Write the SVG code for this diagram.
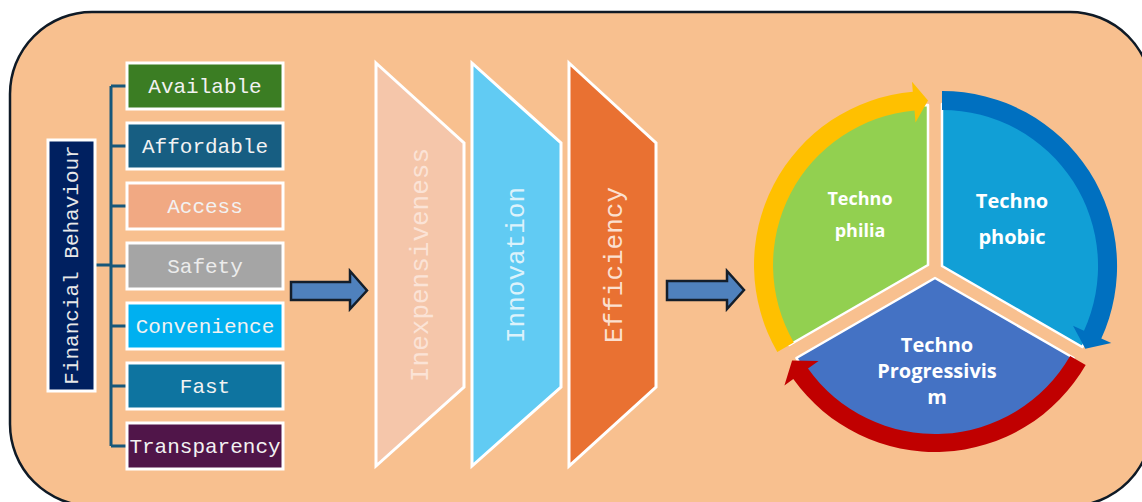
<svg xmlns="http://www.w3.org/2000/svg" width="1142" height="502" viewBox="0 0 1142 502">
<style>
.box{stroke:#ffffff;stroke-width:3}
.lbl{font-family:"Liberation Mono","Courier New",monospace;font-size:21px;fill:#f2f2f2;text-anchor:middle}
.big{font-family:"Liberation Mono","Courier New",monospace;font-size:26px;text-anchor:middle}
.trap{stroke:#ffffff;stroke-width:3;stroke-linejoin:miter}
.con{stroke:#17577a;stroke-width:3;fill:none}
.blk{fill:#4f81bd;stroke:#141e2a;stroke-width:2.5;stroke-linejoin:miter}
.sec{stroke:#ffffff;stroke-width:2.5;stroke-linejoin:round}
.ct{font-family:"Open Sans","Liberation Sans",sans-serif;font-weight:bold;fill:#ffffff;text-anchor:middle}
</style>
<rect x="10" y="12" width="1142" height="494" rx="82" ry="82" fill="#f8c08f" stroke="#0f1a26" stroke-width="2.5"/>

<g id="connectors">
<path class="con" d="M111 86 V446 M111 86 H126 M111 146 H126 M111 206 H126 M111 266 H126 M111 326 H126 M111 386 H126 M111 446 H126 M96 265 H111"/>
<path class="blk" d="M291 282 H350 V271 L367 290.5 L350 309 V300 H291 Z"/>
<path class="blk" d="M667 281 H727 V271 L744 290 L727 309 V300 H667 Z"/>
</g>

<g id="financial-behaviour">
<rect class="box" x="48" y="140" width="47" height="251" fill="#002060"/>
<text class="lbl" transform="translate(71,265) rotate(-90)" y="7" style="fill:#e8e8e8">Financial Behaviour</text>
</g>
<g id="available"><rect class="box" x="127" y="63" width="156" height="46" fill="#3b7d23"/><text class="lbl" x="205" y="93">Available</text></g>
<g id="affordable"><rect class="box" x="127" y="123" width="156" height="46" fill="#175e82"/><text class="lbl" x="205" y="153">Affordable</text></g>
<g id="access"><rect class="box" x="127" y="183" width="156" height="46" fill="#f1a983"/><text class="lbl" x="205" y="213">Access</text></g>
<g id="safety"><rect class="box" x="127" y="243" width="156" height="46" fill="#a5a5a5"/><text class="lbl" x="205" y="273" style="fill:#ececec">Safety</text></g>
<g id="convenience"><rect class="box" x="127" y="303" width="156" height="46" fill="#00b0f0"/><text class="lbl" x="205" y="333">Convenience</text></g>
<g id="fast"><rect class="box" x="127" y="363" width="156" height="46" fill="#0e74a0"/><text class="lbl" x="205" y="393">Fast</text></g>
<g id="transparency"><rect class="box" x="127" y="423" width="156" height="46" fill="#501549"/><text class="lbl" x="205" y="453">Transparency</text></g>

<g id="inexpensiveness">
<path class="trap" d="M376 63 L464 143 V387 L376 466 Z" fill="#f5c6aa"/>
<text class="big" transform="translate(419,265) rotate(-90)" y="9" fill="#fbe3d6">Inexpensiveness</text>
</g>
<g id="innovation">
<path class="trap" d="M472 63 L561 143 V387 L472 466 Z" fill="#61cbf3"/>
<text class="big" transform="translate(515,265) rotate(-90)" y="9" fill="#dcf2fb">Innovation</text>
</g>
<g id="efficiency">
<path class="trap" d="M569 63 L656 143 V387 L569 466 Z" fill="#e97132"/>
<text class="big" transform="translate(613,265) rotate(-90)" y="9" fill="#fbe0d0">Efficiency</text>
</g>

<g id="technophilia">
<path class="sec" d="M928 265 L789.4 345 A160 160 0 0 1 928 105 Z" fill="#92d050"/>
<text class="ct" x="860" y="205" font-size="18">Techno</text>
<text class="ct" x="860" y="237" font-size="18">philia</text>
</g>
<g id="technophobic">
<path class="sec" d="M942 266 L942 104 A162 162 0 0 1 1082.3 347 Z" fill="#119fd6"/>
<text class="ct" x="1012" y="208" font-size="20">Techno</text>
<text class="ct" x="1012" y="244" font-size="20">phobic</text>
</g>
<g id="technoprogressivism">
<path class="sec" d="M935 278 L1073.6 358 A160 160 0 0 1 796.4 358 Z" fill="#4472c4"/>
<text class="ct" x="937" y="352" font-size="20">Techno</text>
<text class="ct" x="937" y="378" font-size="20">Progressivis</text>
<text class="ct" x="937" y="404" font-size="20">m</text>
</g>

<g id="cycle-arrows">
<path d="M777.3 352 A174 174 0 0 1 912.8 91.7 L912 81.7 L928 100.5 L915.5 122.5 L914.5 110.6 A155 155 0 0 0 793.8 342.5 Z" fill="#ffc000"/>
<path d="M942 91 A175 175 0 0 1 1101.3 338.6 L1111.3 343.1 L1085.3 348.8 L1073 325.7 L1084 330.7 A156 156 0 0 0 942 110 Z" fill="#0070c0"/>
<path d="M1085.7 365 A174 174 0 0 1 793.3 379 L784.4 385.4 L792.1 360.5 L818.6 361 L808 368.6 A156 156 0 0 0 1070.1 356 Z" fill="#c00000"/>
</g>
</svg>
